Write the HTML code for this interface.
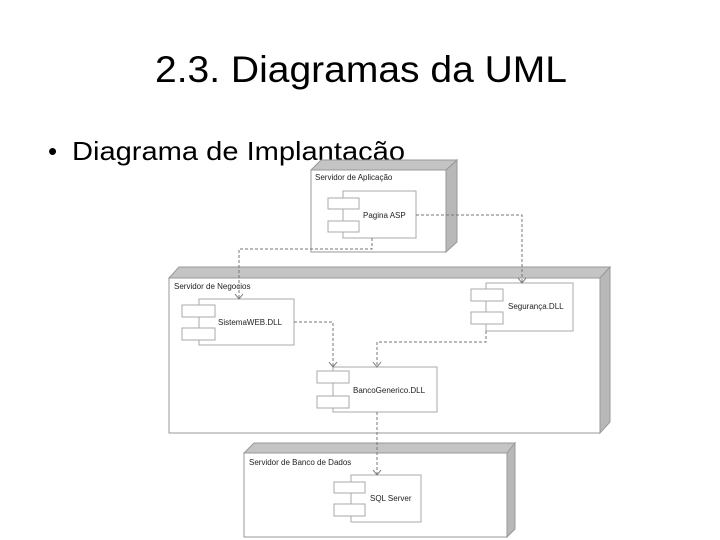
<!DOCTYPE html>
<html><head><meta charset="utf-8"><style>
html,body{margin:0;padding:0;background:#fff;width:720px;height:540px;overflow:hidden}
</style></head><body>
<svg width="720" height="540" viewBox="0 0 720 540" xmlns="http://www.w3.org/2000/svg" font-family="Liberation Sans, sans-serif">
<rect width="720" height="540" fill="#fff"/>
<text x="155" y="82" font-size="37" textLength="412" lengthAdjust="spacingAndGlyphs" fill="#000">2.3. Diagramas da UML</text>
<text x="48" y="160" font-size="26" fill="#000">•</text>
<text x="72" y="160" font-size="26" textLength="333" lengthAdjust="spacingAndGlyphs" fill="#000">Diagrama de Implantação</text>

<g stroke="#999" stroke-width="1" fill="#fff">
<!-- Servidor de Aplicacao -->
<polygon points="311,170 321,160 457,160 446,170" fill="#c4c4c4"/>
<polygon points="446,170 457,160 457,242 446,252" fill="#b8b8b8"/>
<rect x="311" y="170" width="135" height="82"/>
<!-- Servidor de Negocios -->
<polygon points="169,278 179,267 610,267 600,278" fill="#c4c4c4"/>
<polygon points="600,278 610,267 610,422 600,433" fill="#b8b8b8"/>
<rect x="169" y="278" width="431" height="155"/>
<!-- Servidor de Banco -->
<polygon points="244,453 254,443 515,443 507,453" fill="#c4c4c4"/>
<polygon points="507,453 515,443 515,529 507,537" fill="#b8b8b8"/>
<rect x="244" y="453" width="263" height="84"/>
</g>

<g stroke="#aaa" stroke-width="1" fill="#fff">
<rect x="343" y="191" width="73" height="47"/>
<rect x="328" y="198" width="31" height="11"/><rect x="328" y="221" width="31" height="11"/>
<rect x="199" y="299" width="95" height="46"/>
<rect x="182" y="305" width="33" height="12"/><rect x="182" y="328" width="33" height="12"/>
<rect x="486" y="283" width="87" height="48"/>
<rect x="471" y="289" width="32" height="12"/><rect x="471" y="312" width="32" height="12"/>
<rect x="333" y="367" width="104" height="45"/>
<rect x="317" y="371" width="32" height="12"/><rect x="317" y="396" width="32" height="12"/>
<rect x="351" y="475" width="70" height="47"/>
<rect x="334" y="482" width="31" height="11"/><rect x="334" y="504" width="31" height="12"/>
</g>

<g stroke="#777" stroke-width="1" fill="none" stroke-dasharray="3,2">
<polyline points="416,215 522,215 522,282"/>
<polyline points="372,238 372,249 239,249 239,298"/>
<polyline points="294,322 333,322 333,366"/>
<polyline points="486,331 486,342 377,342 377,366"/>
<polyline points="377,412 377,474"/>
</g>
<g stroke="#777" stroke-width="1" fill="none">
<polyline points="518,278 522,283 526,278"/>
<polyline points="235,294 239,299 243,294"/>
<polyline points="329,362 333,367 337,362"/>
<polyline points="373,362 377,367 381,362"/>
<polyline points="373,470 377,475 381,470"/>
</g>

<g font-size="8" fill="#222">
<text x="315" y="180">Servidor de Aplicação</text>
<text x="363" y="218">Pagina ASP</text>
<text x="174" y="289">Servidor de Negocios</text>
<text x="218" y="325">SistemaWEB.DLL</text>
<text x="508" y="309">Segurança.DLL</text>
<text x="353" y="393">BancoGenerico.DLL</text>
<text x="249" y="465">Servidor de Banco de Dados</text>
<text x="370" y="501">SQL Server</text>
</g>
</svg>
</body></html>
